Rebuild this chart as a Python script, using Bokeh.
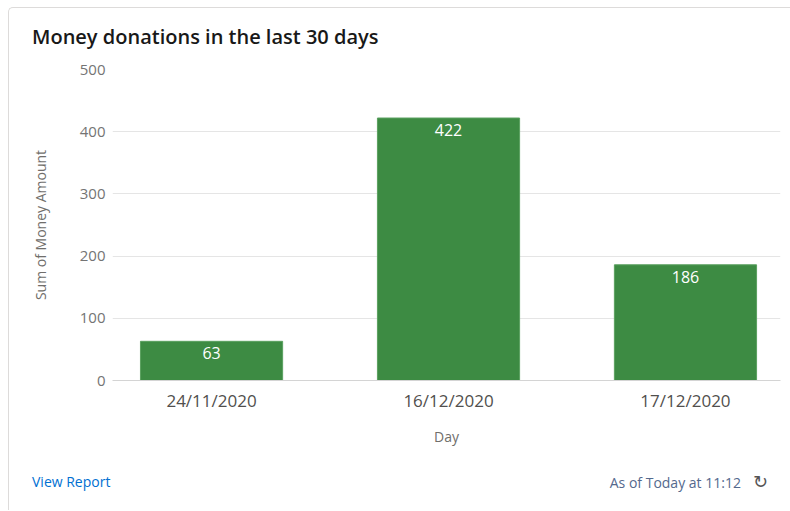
from bokeh.plotting import figure
from bokeh.models import ColumnDataSource, Range1d, FixedTicker, Div
from bokeh.layouts import column
from bokeh.core.properties import value
from bokeh.embed import file_html
from bokeh.resources import INLINE

days = ["24/11/2020", "16/12/2020", "17/12/2020"]
amounts = [63, 422, 186]
y_ticks = [0, 100, 200, 300, 400, 500]
chart_title = "Money donations in the last 30 days"
footer_left = "View Report"
footer_right = "As of Today at 11:12"

FONT = "Open Sans"
idx = list(range(len(days)))
src = ColumnDataSource(dict(x=idx, top=amounts, lbl=[str(a) for a in amounts]))

p = figure(width=781, height=402, output_backend="svg", toolbar_location=None,
           x_range=Range1d(-0.418, 2.401), y_range=Range1d(0, 500),
           min_border_left=103, min_border_right=10, min_border_top=11, min_border_bottom=80,
           tools="")
p.outline_line_color = None

p.vbar(x="x", top="top", width=0.6, source=src, fill_color="#3d8b43", line_color="#5aa05f", line_width=1)
p.text(x="x", y="top", text="lbl", source=src, y_offset=12, text_align="center",
       text_baseline="middle", text_color="white", text_font=value(FONT), text_font_size="16px")

# axes
p.xaxis.ticker = FixedTicker(ticks=idx)
p.xaxis.major_label_overrides = {i: d for i, d in zip(idx, days)}
p.xaxis.axis_label = "Day"
p.xaxis.axis_line_color = "#d4d4d4"
p.xaxis.major_tick_line_color = None
p.xaxis.minor_tick_line_color = None
p.xaxis.major_label_standoff = 2
p.xaxis.axis_label_standoff = 12
p.xaxis.major_label_text_font = FONT
p.xaxis.major_label_text_font_size = "17px"
p.xaxis.major_label_text_color = "#514f4d"
p.xaxis.axis_label_text_font = FONT
p.xaxis.axis_label_text_font_size = "14px"
p.xaxis.axis_label_text_font_style = "normal"
p.xaxis.axis_label_text_color = "#706e6b"

p.yaxis.ticker = FixedTicker(ticks=y_ticks)
p.yaxis.axis_label = "Sum of Money Amount"
p.yaxis.axis_line_color = None
p.yaxis.major_tick_line_color = None
p.yaxis.minor_tick_line_color = None
p.yaxis.major_label_standoff = 1
p.yaxis.axis_label_standoff = 27
p.yaxis.major_label_text_font = FONT
p.yaxis.major_label_text_font_size = "15px"
p.yaxis.major_label_text_color = "#747474"
p.yaxis.axis_label_text_font = FONT
p.yaxis.axis_label_text_font_size = "14px"
p.yaxis.axis_label_text_font_style = "normal"
p.yaxis.axis_label_text_color = "#706e6b"

p.xgrid.grid_line_color = None
p.ygrid.ticker = FixedTicker(ticks=y_ticks)
p.ygrid.grid_line_color = "#e5e5e5"

# header (card title)
header_html = (
    '<div style="height:50px;width:781px;padding:17px 0 0 23px;box-sizing:border-box;'
    "line-height:24px;font-family:'Open Sans';font-size:20px;font-weight:600;"
    f'color:#181818;white-space:nowrap">{chart_title}</div>'
)
head = Div(text=header_html, width=781, height=50, margin=0)

# footer
footer_html = (
    '<div style="display:flex;align-items:center;justify-content:space-between;'
    'height:44px;width:781px;padding:0 22px 0 23px;box-sizing:border-box;'
    "font-family:'Open Sans';font-size:14px;\">"
    f'<span style="color:#0070d2">{footer_left}</span>'
    f'<span style="color:#54698d">{footer_right}'
    "<span style=\"color:#555555;font-family:'DejaVu Sans';font-size:18px;margin-left:12px\">&#8635;</span>"
    '</span></div>'
)
foot = Div(text=footer_html, width=781, height=50, margin=0)

layout = column(head, p, foot, spacing=0)
layout.margin = (7, 0, 0, 8)
layout.styles = {"border-left": "1px solid #dddbda", "border-top": "1px solid #dddbda",
                 "border-top-left-radius": "5px"}

open("out.html", "w").write(file_html(layout, INLINE))
